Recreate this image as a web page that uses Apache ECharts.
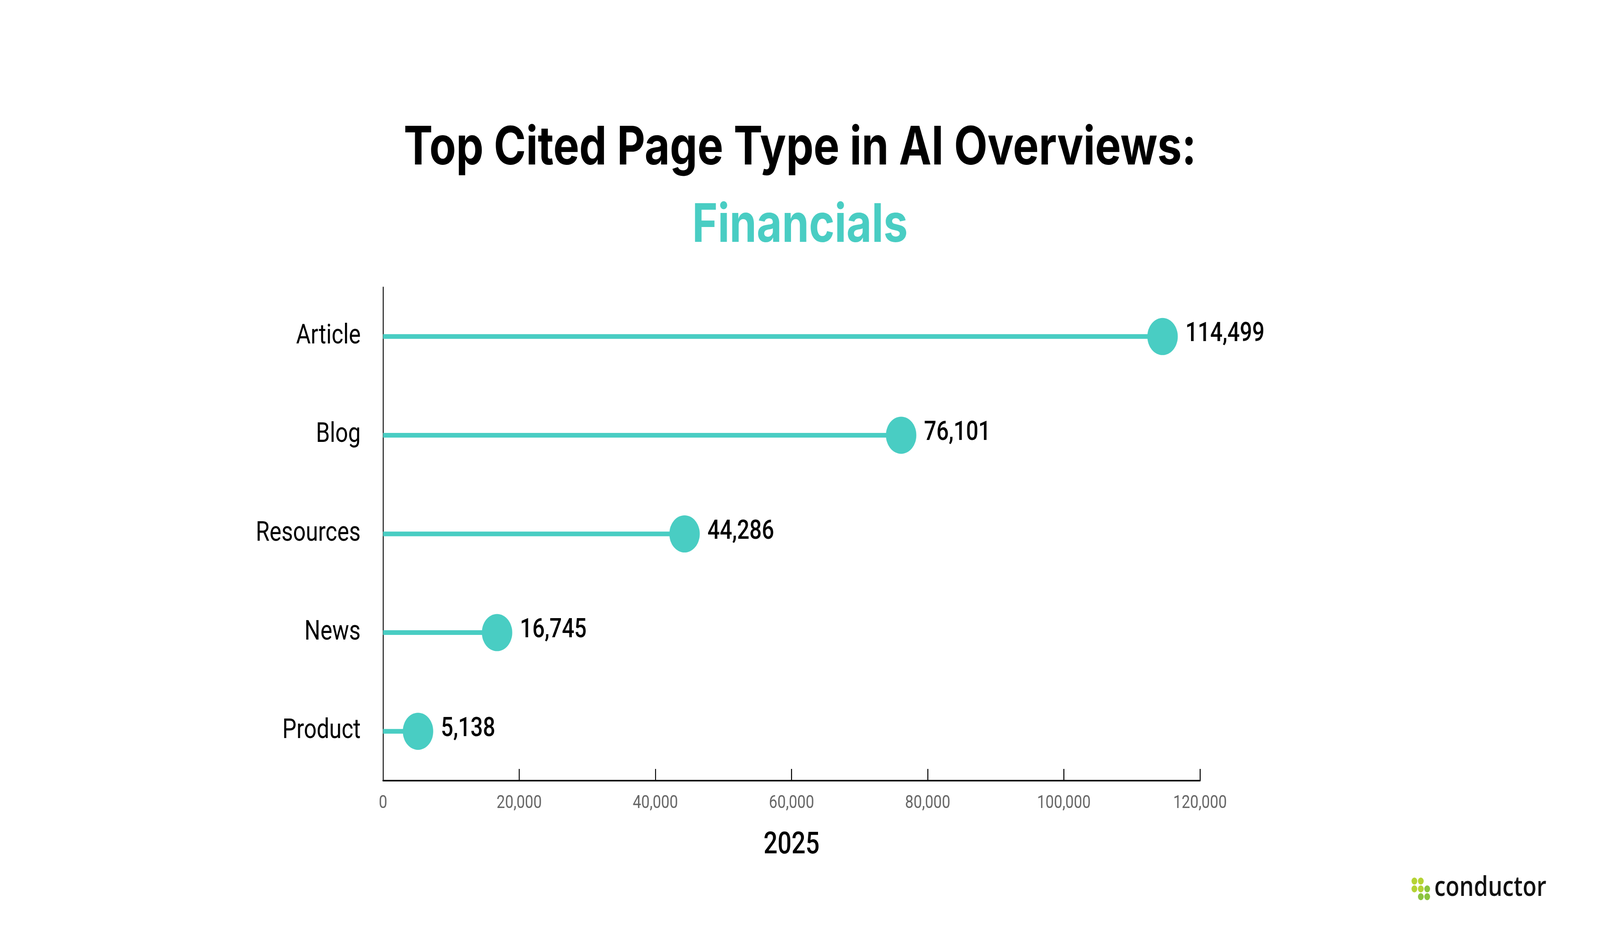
<!DOCTYPE html>
<html>
<head>
<meta charset="utf-8">
<script src="https://cdn.jsdelivr.net/npm/echarts@6/dist/echarts.min.js"></script>
<style>
html,body{margin:0;padding:0;background:#fff;overflow:hidden;}
#chart{width:5000px;height:2434px;transform-origin:0 0;}
</style>
</head>
<body>
<div id="chart"></div>
<script>
// ---- data ----
const categories = ['Article', 'Blog', 'Resources', 'News', 'Product'];
const citations = [114499, 76101, 44286, 16745, 5138];
const xTicks = [0, 20000, 40000, 60000, 80000, 100000, 120000];
const titleText = 'Top Cited Page Type in AI Overviews:';
const subtitleText = 'Financials';
const axisName = '2025';

// fit the 5000x2434 design into whatever window the page is opened in
(function () {
  const sx = window.innerWidth / 5000, sy = window.innerHeight / 2434;
  if (Math.abs(sx - 1) > 0.001 || Math.abs(sy - 1) > 0.001) {
    document.getElementById('chart').style.transform = 'scale(' + sx + ',' + sy + ')';
  }
})();

const TEAL = '#49CDC3';
const FONT = 'Roboto';
const TITLE_FONT = 'Inter';
const fmt = v => Number(v).toLocaleString('en-US');

const chart = echarts.init(document.getElementById('chart'), null, {renderer: 'canvas'});

chart.setOption({
  backgroundColor: '#ffffff',
  animation: false,
  title: [
    {
      text: titleText, left: 'center', top: 307,
      textStyle: {fontFamily: TITLE_FONT, fontWeight: 'bold', fontSize: 136, lineHeight: 136, color: '#000'}
    },
    {
      text: subtitleText, left: 'center', top: 505,
      textStyle: {fontFamily: TITLE_FONT, fontWeight: 'bold', fontSize: 136, lineHeight: 136, color: TEAL}
    }
  ],
  grid: {left: 1197, right: 1250, top: 735, bottom: 436, containLabel: false},
  xAxis: {
    type: 'value', min: xTicks[0], max: xTicks[xTicks.length - 1],
    interval: xTicks[1] - xTicks[0],
    name: axisName, nameLocation: 'middle', nameGap: 128,
    nameTextStyle: {fontFamily: FONT, fontSize: 77, color: '#000', fontWeight: 500},
    axisLine: {show: true, lineStyle: {color: '#000', width: 4}},
    axisTick: {show: true, inside: true, length: 30, lineStyle: {color: '#000', width: 3}},
    splitLine: {show: false},
    axisLabel: {fontFamily: FONT, fontSize: 47, color: '#666', margin: 35, formatter: fmt}
  },
  yAxis: {
    type: 'category', data: categories, inverse: true,
    axisLine: {show: true, lineStyle: {color: '#000', width: 3}},
    axisTick: {show: false},
    splitLine: {show: false},
    axisLabel: {fontFamily: FONT, fontSize: 70, color: '#000', margin: 70}
  },
  series: [
    {
      type: 'bar', data: citations, barWidth: 12, silent: true,
      itemStyle: {color: TEAL}, z: 2
    },
    {
      type: 'scatter', data: citations.map((v, i) => [v, categories[i]]),
      symbol: 'circle', symbolSize: 95, itemStyle: {color: TEAL, opacity: 1}, z: 3,
      label: {
        show: true, position: 'right', distance: 24,
        fontFamily: FONT, fontSize: 68, fontWeight: 500, color: '#000',
        offset: [0, -5],
        formatter: p => fmt(p.value[0])
      }
    }
  ],
  graphic: [
    {type: 'circle', shape: {cx: 4420, cy: 2255, r: 9}, style: {fill: '#B5D334'}},
    {type: 'circle', shape: {cx: 4440, cy: 2255, r: 9}, style: {fill: '#B5D334'}},
    {type: 'circle', shape: {cx: 4420, cy: 2275, r: 9}, style: {fill: '#B5D334'}},
    {type: 'circle', shape: {cx: 4440, cy: 2275, r: 9}, style: {fill: '#B5D334'}},
    {type: 'circle', shape: {cx: 4460, cy: 2275, r: 9}, style: {fill: '#8BC43F'}},
    {type: 'circle', shape: {cx: 4440, cy: 2295, r: 9}, style: {fill: '#8BC43F'}},
    {type: 'circle', shape: {cx: 4460, cy: 2295, r: 9}, style: {fill: '#8BC43F'}},
    {type: 'text', left: 4482, top: 2237,
      style: {text: 'conductor', fontFamily: 'Open Sans', fontWeight: 600, fontSize: 71, fill: '#111'}}
  ]
});
</script>
</body>
</html>
